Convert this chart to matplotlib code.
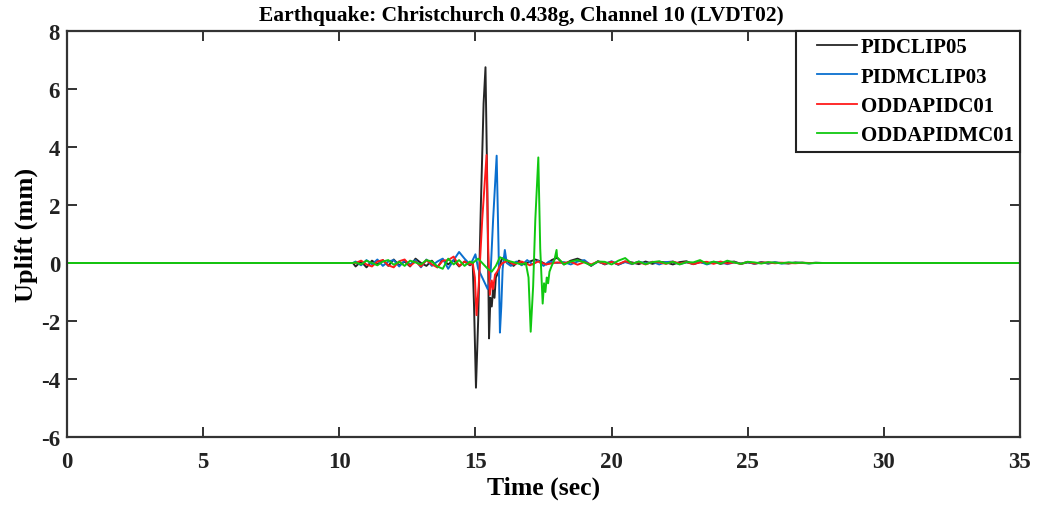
import numpy as np
import matplotlib
matplotlib.use('Agg')
import matplotlib.pyplot as plt

plt.rcParams['font.family'] = ['Liberation Serif', 'DejaVu Serif']
plt.rcParams['font.weight'] = 'bold'
plt.rcParams['axes.unicode_minus'] = False

# quiet lead-in / tail
lead_t = [0.0, 10.5]
tail_t = [28.2, 35.0]

# pre-event noise, 10.6 .. 14.8 s
noiseA_t = np.linspace(10.6, 14.8, 22)
black_A = [-0.12, 0.05, -0.15, 0.08, -0.05, 0.10, -0.10, 0.12, -0.08, 0.05, -0.12,
           0.15, 0.00, -0.10, 0.08, -0.15, 0.12, -0.05, 0.10, -0.12, 0.05, -0.08]
blue_A = [0.05, -0.08, 0.10, -0.05, 0.12, -0.10, 0.05, 0.10, -0.12, 0.08, -0.05,
          0.10, -0.15, 0.12, -0.10, 0.05, 0.15, -0.20, 0.10, 0.38, 0.15, -0.05]
red_A = [0.00, 0.08, -0.05, -0.12, 0.05, 0.10, -0.08, -0.15, 0.06, 0.12, -0.10,
         0.05, -0.12, 0.10, -0.05, -0.15, 0.08, 0.10, 0.22, -0.10, 0.05, -0.05]
green_A = [0.02, -0.05, 0.08, 0.00, -0.08, 0.05, 0.10, -0.06, 0.04, -0.10, 0.08,
           0.02, -0.05, 0.10, 0.05, -0.12, -0.20, 0.15, -0.05, 0.10, -0.10, 0.05]

# main event window
black_B_t = [14.9, 14.95, 15.02, 15.1, 15.2, 15.3, 15.37, 15.43, 15.5, 15.55, 15.6,
             15.65, 15.7, 15.75, 15.85, 15.95, 16.05, 16.2, 16.4, 16.6, 16.8, 17.0,
             17.2, 17.4, 17.6, 17.8, 18.0]
black_B_v = [0.0, -1.5, -4.3, -2.0, 2.0, 5.5, 6.75, 3.0, -2.6, -1.2, -1.5,
             -0.9, -1.2, -0.5, -0.3, 0.1, 0.2, 0.05, -0.1, 0.08, -0.05, 0.05,
             0.12, 0.05, -0.05, 0.10, 0.18]
blue_B_t = [14.9, 15.0, 15.1, 15.3, 15.45, 15.55, 15.65, 15.78, 15.85, 15.9, 15.95,
            16.0, 16.08, 16.15, 16.3, 16.5, 16.7, 16.9, 17.1, 17.3, 17.5, 17.7, 18.0]
blue_B_v = [0.10, 0.30, -0.20, -0.60, -0.90, -0.50, 1.50, 3.70, 0.50, -2.40, -1.50,
            -0.20, 0.45, 0.00, -0.10, 0.05, -0.08, 0.10, -0.05, 0.08, -0.10, 0.05, 0.00]
red_B_t = [14.9, 14.98, 15.04, 15.12, 15.25, 15.41, 15.47, 15.53, 15.6, 15.65,
           15.72, 15.8, 15.9, 16.0, 16.2, 16.4, 16.7, 17.0, 17.3, 17.6, 18.0]
red_B_v = [0.0, -0.5, -1.8, -0.8, 1.5, 3.72, 0.5, -1.1, -0.6, -0.9,
           -0.4, -0.3, -0.1, 0.0, 0.08, -0.05, 0.05, -0.08, 0.05, -0.05, 0.02]
green_B_t = [14.9, 15.1, 15.3, 15.45, 15.6, 15.75, 15.9, 16.1, 16.3, 16.5, 16.7,
             16.85, 16.95, 17.03, 17.12, 17.2, 17.31, 17.38, 17.47, 17.52, 17.57,
             17.62, 17.67, 17.72, 17.8, 17.9, 17.98, 18.0]
green_B_v = [0.0, 0.15, -0.05, -0.20, -0.30, -0.10, 0.20, 0.10, 0.05, 0.00, -0.05,
             0.00, -0.50, -2.37, -0.80, 1.50, 3.64, 0.50, -1.40, -0.70, -1.00,
             -0.50, -0.70, -0.30, -0.10, 0.10, 0.45, 0.20]

# post-event noise, 18.25 .. 28.0 s
noiseC_t = np.linspace(18.25, 28.0, 40)
black_C = [-0.05, 0.08, 0.15, 0.05, -0.10, 0.06, -0.05, 0.04, -0.06, 0.05, 0.02,
           -0.04, 0.05, -0.03, 0.04, 0.02, -0.05, 0.03, 0.06, -0.04, 0.03, -0.02,
           0.04, -0.03, 0.02, 0.05, -0.03, 0.02, -0.02, 0.03, -0.02, 0.02, 0.00,
           -0.02, 0.02, 0.00, -0.01, 0.01, 0.00, 0.00]
blue_C = [0.03, -0.05, 0.05, 0.10, -0.08, 0.04, -0.03, 0.06, -0.05, 0.03, -0.04,
          0.05, -0.02, 0.04, -0.05, 0.03, 0.05, -0.04, 0.02, -0.03, 0.04, -0.05,
          0.02, 0.03, -0.04, 0.02, -0.02, 0.03, -0.03, 0.02, -0.01, 0.02, -0.02,
          0.01, 0.00, 0.01, -0.01, 0.00, 0.00, 0.00]
red_C = [0.00, 0.04, -0.06, 0.03, -0.05, 0.05, -0.03, 0.04, -0.04, 0.06, -0.02,
         0.03, -0.05, 0.04, 0.02, -0.03, 0.05, -0.02, 0.03, -0.04, 0.02, 0.04,
         -0.03, 0.05, -0.02, 0.02, -0.03, 0.04, -0.02, 0.01, 0.02, -0.01, 0.01,
         0.00, -0.01, 0.01, 0.00, 0.00, 0.00, 0.00]
green_C = [-0.05, 0.05, 0.10, 0.02, -0.08, 0.05, 0.04, -0.05, 0.08, 0.17, -0.03,
           0.05, -0.04, 0.03, 0.06, -0.02, 0.04, -0.05, 0.03, 0.02, 0.10, -0.03,
           0.05, -0.02, 0.08, 0.02, -0.03, 0.04, 0.02, -0.02, 0.03, 0.01, -0.01,
           0.02, 0.00, 0.01, -0.01, 0.00, 0.00, 0.00]

labels = ['PIDCLIP05', 'PIDMCLIP03', 'ODDAPIDC01', 'ODDAPIDMC01']
colors = ['#262626', '#0a6fcf', '#ff1a1a', '#10c810']


def build(A, Bt, Bv, C):
    t = np.concatenate([lead_t, noiseA_t, Bt, noiseC_t, tail_t])
    v = np.concatenate([[0, 0], A, Bv, C, [0, 0]])
    return t, v


series = [
    build(black_A, black_B_t, black_B_v, black_C),
    build(blue_A, blue_B_t, blue_B_v, blue_C),
    build(red_A, red_B_t, red_B_v, red_C),
    build(green_A, green_B_t, green_B_v, green_C),
]

fig = plt.figure(figsize=(10.37, 5.06), dpi=100)
ax = fig.add_axes([0.0646, 0.1344, 0.919, 0.8024])
for (t, v), lab, c in zip(series, labels, colors):
    ax.plot(t, v, color=c, lw=1.4, label=lab)

ax.set_xlim(0, 35)
ax.set_ylim(-6, 8)
ax.set_xticks(np.arange(0, 36, 5))
ax.set_yticks(np.arange(-6, 9, 2))
ax.tick_params(direction='in', length=7, width=1.3, top=True, right=True,
               labelsize=16.5, pad=5, colors='#222222')
ax.tick_params(axis='x', pad=10)
for s in ax.spines.values():
    s.set_linewidth(1.6)
    s.set_color('#333333')
for lbl in ax.get_xticklabels() + ax.get_yticklabels():
    lbl.set_fontweight('bold')

ax.set_xlabel('Time (sec)', fontsize=18.5, fontweight='bold', labelpad=3)
ax.set_ylabel('Uplift (mm)', fontsize=19, fontweight='bold', labelpad=2)
ax.set_title('Earthquake: Christchurch 0.438g, Channel 10 (LVDT02)',
             fontsize=15.5, fontweight='bold', pad=8, x=0.477)

leg = ax.legend(loc='upper right', frameon=True, fancybox=False,
                borderaxespad=0, handlelength=2.6, handletextpad=0.2,
                labelspacing=0.45, borderpad=0.3,
                prop={'weight': 'bold', 'size': 15})
leg.get_frame().set_edgecolor('#222222')
leg.get_frame().set_linewidth(1.5)
leg.get_frame().set_alpha(1)
for h in leg.get_lines():
    h.set_linewidth(1.3)
    xd = np.asarray(h.get_xdata(), dtype=float)
    yd = np.asarray(h.get_ydata(), dtype=float)
    # shorten handle from the left so the box keeps a wider left margin
    x0 = xd[0] + (xd[-1] - xd[0]) * 0.27
    h.set_data([x0, xd[-1]], [yd[0], yd[0]])

fig.savefig('out.png', dpi=100)
